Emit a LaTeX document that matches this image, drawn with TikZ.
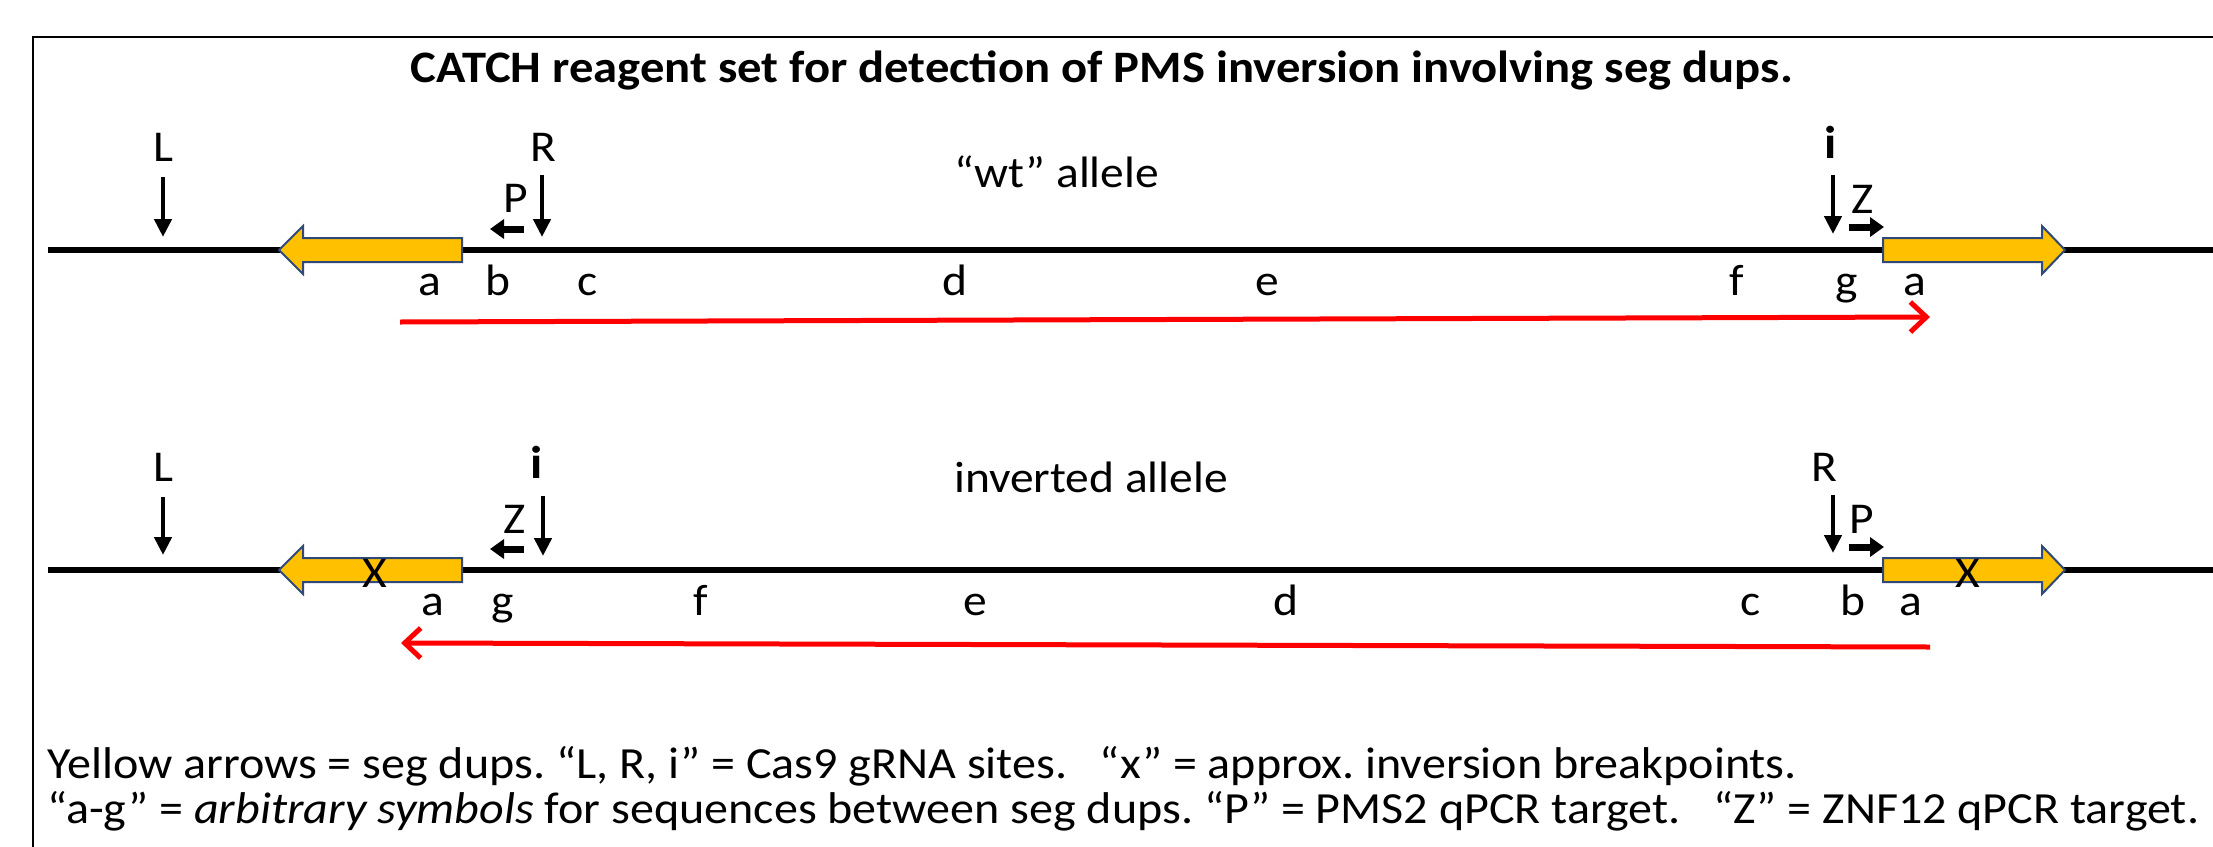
\documentclass[tikz,border=0pt]{standalone}
\usepackage{fontspec}
\setmainfont{Carlito}[FakeStretch=1.08]
\usetikzlibrary{arrows.meta}
\definecolor{segyellow}{HTML}{FFC000}
\definecolor{segborder}{HTML}{2F4A78}
\definecolor{spanred}{HTML}{FF0000}
\tikzset{
  txt/.style={font=\fontsize{44}{50}\selectfont, inner sep=0pt, anchor=base},
  titletxt/.style={font=\fontsize{45}{54}\selectfont\bfseries, inner sep=0pt, anchor=base},
  notetxt/.style={font=\fontsize{44.5}{50}\selectfont, inner sep=0pt, anchor=base west},
  cutarrow/.style={line width=4.5pt, -{Triangle[length=18pt,width=17pt]}},
  primerarrow/.style={line width=7pt, -{Triangle[length=14pt,width=19pt]}},
  dnaline/.style={line width=6pt},
  segdup/.style={fill=segyellow, draw=segborder, line width=2pt, line join=miter},
  spanarrow/.style={draw=spanred, line width=5pt, -{Straight Barb[length=16pt,width=30pt,line width=5pt]}},
  frameline/.style={line width=2.5pt}
}
\frenchspacing
\begin{document}
\begin{tikzpicture}[x=1pt, y=-1pt]
\useasboundingbox (0,0) rectangle (2213,846);
\clip (0,0) rectangle (2213,846);
\fill[white] (0,0) rectangle (2213,846);
% frame
\coordinate (frTR) at (2230,37);
\coordinate (frTL) at (33,37);
\coordinate (frBL) at (33,860);
\draw[frameline] (frTR) -- (frTL) -- (frBL);
% title
\node[titletxt] (title) at (1102,82) {CATCH reagent set for detection of PMS inversion involving seg dups.};

% ===== row 1: wt allele =====
\coordinate (dna1L) at (48,250);
\coordinate (dna1R) at (2230,250);
\draw[dnaline] (dna1L) -- (dna1R);
\draw[segdup] (462,238) -- (303,238) -- (303,226) -- (279,250) -- (303,274) -- (303,262) -- (462,262) -- cycle;
\draw[segdup] (1883,238) -- (2042,238) -- (2042,226) -- (2065,250) -- (2042,274) -- (2042,262) -- (1883,262) -- cycle;

\node[txt] (L1) at (163,161) {L};
\coordinate (L1s) at (163,177); \coordinate (L1e) at (163,237);
\draw[cutarrow] (L1s) -- (L1e);
\node[txt] (R1) at (543,161) {R};
\coordinate (R1s) at (542,175); \coordinate (R1e) at (542,237);
\draw[cutarrow] (R1s) -- (R1e);
\node[txt] (P1) at (516,212) {P};
\coordinate (P1s) at (524,229); \coordinate (P1e) at (490,229);
\draw[primerarrow] (P1s) -- (P1e);
\node[txt, font=\fontsize{46}{50}\selectfont\bfseries] (i1) at (1831,158) {i};
\coordinate (i1s) at (1833,175); \coordinate (i1e) at (1833,234);
\draw[cutarrow] (i1s) -- (i1e);
\node[txt] (Z1) at (1863,213) {Z};
\coordinate (Z1s) at (1849,227); \coordinate (Z1e) at (1884,227);
\draw[primerarrow] (Z1s) -- (Z1e);
\node[txt, anchor=base west] (wt) at (954,187) {“wt” allele};

\node[txt] (a1) at (430,295) {a};
\node[txt] (b1) at (498,295) {b};
\node[txt] (c1) at (588,295) {c};
\node[txt] (d1) at (955,295) {d};
\node[txt] (e1) at (1267,295) {e};
\node[txt] (f1) at (1737,295) {f};
\node[txt] (g1) at (1847,295) {g};
\node[txt] (a1r) at (1915,295) {a};

\coordinate (span1s) at (400,322); \coordinate (span1e) at (1930,317);
\draw[spanarrow] (span1s) -- (span1e);

% ===== row 2: inverted allele =====
\coordinate (dna2L) at (48,570);
\coordinate (dna2R) at (2230,570);
\draw[dnaline] (dna2L) -- (dna2R);
\draw[segdup] (462,558) -- (303,558) -- (303,546) -- (279,570) -- (303,594) -- (303,582) -- (462,582) -- cycle;
\draw[segdup] (1883,558) -- (2042,558) -- (2042,546) -- (2065,570) -- (2042,594) -- (2042,582) -- (1883,582) -- cycle;
\node[txt, anchor=center] (X1) at (375,573) {X};
\node[txt, anchor=center] (X2) at (1968,573) {X};

\node[txt] (L2) at (163,481) {L};
\coordinate (L2s) at (163,497); \coordinate (L2e) at (163,555);
\draw[cutarrow] (L2s) -- (L2e);
\node[txt, font=\fontsize{46}{50}\selectfont\bfseries] (i2) at (537,478) {i};
\coordinate (i2s) at (543,496); \coordinate (i2e) at (543,556);
\draw[cutarrow] (i2s) -- (i2e);
\node[txt] (Z2) at (515,533) {Z};
\coordinate (Z2s) at (524,549); \coordinate (Z2e) at (490,549);
\draw[primerarrow] (Z2s) -- (Z2e);
\node[txt] (R2) at (1824,481) {R};
\coordinate (R2s) at (1833,495); \coordinate (R2e) at (1833,553);
\draw[cutarrow] (R2s) -- (R2e);
\node[txt] (P2) at (1862,533) {P};
\coordinate (P2s) at (1849,547); \coordinate (P2e) at (1884,547);
\draw[primerarrow] (P2s) -- (P2e);
\node[txt, anchor=base west] (inv) at (954,492) {inverted allele};

\node[txt] (a2) at (433,615) {a};
\node[txt] (g2) at (503,615) {g};
\node[txt] (f2) at (701,615) {f};
\node[txt] (e2) at (975,615) {e};
\node[txt] (d2) at (1286,615) {d};
\node[txt] (c2) at (1751,615) {c};
\node[txt] (b2) at (1853,615) {b};
\node[txt] (a2r) at (1911,615) {a};

\coordinate (span2s) at (1930,647); \coordinate (span2e) at (401,643);
\draw[spanarrow] (span2s) -- (span2e);

% ===== notes =====
\node[notetxt] (note1) at (47,778) {Yellow arrows = seg dups. “L, R, i” = Cas9 gRNA sites.\ \ \ “x” = approx. inversion breakpoints.};
\node[notetxt] (note2) at (47,823) {“a-g” = \textit{arbitrary symbols} for sequences between seg dups. “P” = PMS2 qPCR target.\ \ \ “Z” = ZNF12 qPCR target.};
\end{tikzpicture}
\end{document}
